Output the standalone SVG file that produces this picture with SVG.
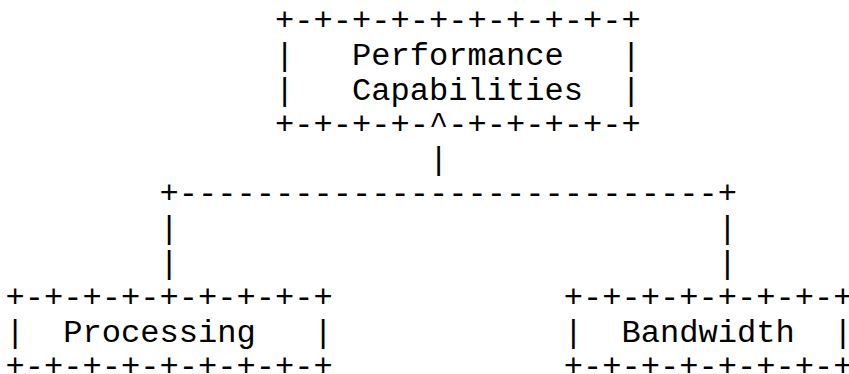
<svg xmlns="http://www.w3.org/2000/svg" width="849" height="374" viewBox="0 0 849 374">
<style>
text { font-family: "Liberation Mono", "Courier New", monospace; font-size: 32.1px; fill: #000; white-space: pre; }
</style>
<rect width="849" height="374" fill="#fff"/>
<g id="performance-capabilities">
<text x="274.9" y="30.3">+-+-+-+-+-+-+-+-+-+</text>
<text x="274.9" y="64.9">|   Performance   |</text>
<text x="274.9" y="99.5">|   Capabilities  |</text>
<text x="274.9" y="134.1">+-+-+-+-^-+-+-+-+-+</text>
</g>
<g id="connectors">
<text x="428.9" y="168.7">|</text>
<text x="159.4" y="203.3">+----------------------------+</text>
<text x="159.4" y="237.9">|</text>
<text x="159.4" y="272.5">|</text>
<text x="717.65" y="237.9">|</text>
<text x="717.65" y="272.5">|</text>
</g>
<g id="processing">
<text x="5.4" y="307.1">+-+-+-+-+-+-+-+-+</text>
<text x="5.4" y="341.7">|  Processing   |</text>
<text x="5.4" y="376.3">+-+-+-+-+-+-+-+-+</text>
</g>
<g id="bandwidth">
<text x="563.65" y="307.1">+-+-+-+-+-+-+-+</text>
<text x="563.65" y="341.7">|  Bandwidth  |</text>
<text x="563.65" y="376.3">+-+-+-+-+-+-+-+</text>
</g>
</svg>
